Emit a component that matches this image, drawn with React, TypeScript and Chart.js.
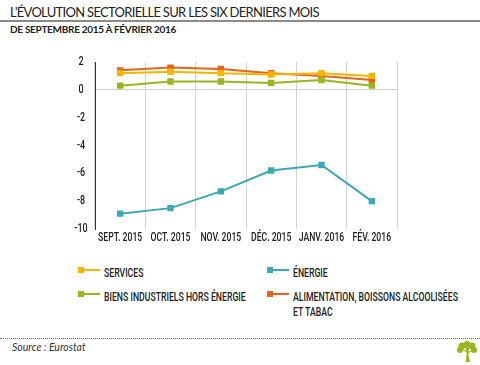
import React, { useEffect, useRef } from "react";
import { Chart, registerables } from "chart.js";

Chart.register(...registerables);

const months = ["SEPT. 2015", "OCT. 2015", "NOV. 2015", "DÉC. 2015", "JANV. 2016", "FÉV. 2016"];
const services = [1.2, 1.3, 1.2, 1.1, 1.2, 1.0];
const energie = [-8.9, -8.5, -7.3, -5.8, -5.4, -8.0];
const biensIndustriels = [0.3, 0.6, 0.6, 0.5, 0.7, 0.3];
const alimentation = [1.4, 1.6, 1.5, 1.2, 1.0, 0.7];
const yTicks = [2, 0, -2, -4, -6, -8, -10];

const COLORS = {
  services: "#f7b500",
  energie: "#3aa9b4",
  biens: "#9ab51f",
  alim: "#e8641a",
};

const sans = 'Lato, "Open Sans", "DejaVu Sans", sans-serif';
const cond = 'Roboto, "Liberation Sans", sans-serif';
const SX = 0.72;
const SX_LEGEND = 0.695;

const condensedLabels = {
  id: "condensedLabels",
  afterDraw(chart: any) {
    const ctx = chart.ctx as CanvasRenderingContext2D;
    const xs = chart.scales.x;
    const ys = chart.scales.y;
    ctx.save();
    ctx.fillStyle = "#222";
    ctx.font = `500 12px ${cond}`;
    ctx.textAlign = "center";
    ctx.textBaseline = "middle";
    xs.ticks.forEach((_t: any, i: number) => {
      const x = xs.getPixelForTick(i);
      ctx.save();
      ctx.translate(x, xs.top + 9);
      ctx.scale(SX, 1);
      ctx.fillText(String(chart.data.labels[i]), 0, 0);
      ctx.restore();
    });
    ctx.font = `500 12.5px ${cond}`;
    ys.ticks.forEach((t: any, i: number) => {
      const y = ys.getPixelForTick(i);
      ctx.save();
      ctx.translate(ys.right - 14, y);
      ctx.scale(SX, 1);
      ctx.fillText(String(t.value), 0, 0);
      ctx.restore();
    });
    ctx.restore();
  },
};

function CondText({ children, size = 12.5 }: { children: React.ReactNode; size?: number }) {
  return (
    <span
      style={{
        display: "inline-block",
        fontFamily: cond,
        fontWeight: 500,
        fontSize: size,
        lineHeight: "15px",
        color: "#222",
        transform: `scaleX(${SX_LEGEND})`,
        transformOrigin: "left center",
        whiteSpace: "nowrap",
      }}
    >
      {children}
    </span>
  );
}

function LegendItem({ color, lines, left, top }: { color: string; lines: string[]; left: number; top: number }) {
  return (
    <div style={{ position: "absolute", left, top }}>
      <div style={{ position: "absolute", left: 0, top: 6, width: 22, height: 2, background: color }} />
      <div style={{ position: "absolute", left: 0, top: 4, width: 6, height: 6, background: color }} />
      <div style={{ position: "absolute", left: 26, top: 0 }}>
        {lines.map((l, i) => (
          <div key={i} style={{ height: 15 }}>
            <CondText>{l}</CondText>
          </div>
        ))}
      </div>
    </div>
  );
}

export default function App() {
  const ref = useRef<HTMLCanvasElement | null>(null);

  useEffect(() => {
    if (!ref.current) return;
    const mk = (label: string, data: number[], color: string) => ({
      label,
      data,
      borderColor: color,
      backgroundColor: color,
      borderWidth: 2,
      pointStyle: "rect" as const,
      pointRadius: 4.5,
      pointHoverRadius: 4.5,
      pointBorderWidth: 0,
      tension: 0,
    });
    const chart = new Chart(ref.current, {
      type: "line",
      data: {
        labels: months,
        datasets: [
          mk("Énergie", energie, COLORS.energie),
          mk("Biens industriels hors énergie", biensIndustriels, COLORS.biens),
          mk("Services", services, COLORS.services),
          mk("Alimentation, boissons alcoolisées et tabac", alimentation, COLORS.alim),
        ],
      },
      options: {
        animation: false,
        responsive: false,
        maintainAspectRatio: false,
        layout: { padding: { left: 0, right: 23, top: 22, bottom: 0 } },
        plugins: { legend: { display: false }, tooltip: { enabled: false } },
        scales: {
          x: {
            offset: true,
            grid: { offset: true, color: "#d4d4d4", lineWidth: 1, drawTicks: false },
            border: { display: false },
            ticks: { display: false, autoSkip: false },
            afterFit: (s: any) => {
              s.height = 26;
            },
          },
          y: {
            min: -10,
            max: 2,
            afterBuildTicks: (s: any) => {
              s.ticks = yTicks.map((v) => ({ value: v }));
            },
            grid: {
              color: (c: any) => (c.tick && c.tick.value === 0 ? "#cfcfcf" : "rgba(0,0,0,0)"),
              lineWidth: 1,
              drawTicks: false,
            },
            border: { display: true, color: "#333", width: 1 },
            ticks: { display: false },
            afterFit: (s: any) => {
              s.width = 95;
            },
          },
        },
      },
      plugins: [condensedLabels],
    });
    return () => chart.destroy();
  }, []);

  return (
    <div style={{ position: "absolute", left: 0, top: 0, width: 480, height: 365, background: "#fff", overflow: "hidden" }}>
      <div style={{ position: "absolute", left: 10, top: 4, fontFamily: sans, fontSize: 13, letterSpacing: -0.7, color: "#222", whiteSpace: "nowrap" }}>
        L’ÉVOLUTION SECTORIELLE SUR LES SIX DERNIERS MOIS
      </div>
      <div style={{ position: "absolute", left: 0, top: 20, width: 480, height: 2, background: "#8a8a8a" }} />
      <div style={{ position: "absolute", left: 10, top: 23, fontFamily: sans, fontSize: 10, letterSpacing: -0.3, fontWeight: 700, color: "#222", whiteSpace: "nowrap" }}>
        DE SEPTEMBRE 2015 À FÉVRIER 2016
      </div>
      <canvas ref={ref} width={420} height={215} style={{ position: "absolute", left: 0, top: 40, width: 420, height: 215 }} />
      <LegendItem color={COLORS.services} lines={["SERVICES"]} left={78} top={263} />
      <LegendItem color={COLORS.energie} lines={["ÉNERGIE"]} left={267} top={263} />
      <LegendItem color={COLORS.biens} lines={["BIENS INDUSTRIELS HORS ÉNERGIE"]} left={78} top={287} />
      <LegendItem color={COLORS.alim} lines={["ALIMENTATION, BOISSONS ALCOOLISÉES", "ET TABAC"]} left={267} top={287} />
      <div style={{ position: "absolute", left: 0, top: 338, width: 480, height: 0, borderTop: "1px dotted #777" }} />
      <div style={{ position: "absolute", left: 12, top: 341, fontFamily: sans, fontStyle: "italic", fontSize: 10.5, color: "#333" }}>
        Source : Eurostat
      </div>
      <svg style={{ position: "absolute", left: 456, top: 341 }} width={22} height={22} viewBox="0 0 22 22">
        <g fill="#9ab51f">
          <circle cx="6" cy="5" r="3.5" />
          <circle cx="11" cy="3.5" r="3.5" />
          <circle cx="16" cy="5" r="3.5" />
          <circle cx="4" cy="9" r="3" />
          <circle cx="18" cy="9" r="3" />
          <path d="M10 7 L13 7 L12.5 14 L14 21 L9.5 21 L10.5 14 Z" />
          <path d="M11 11 L5 9 L5.5 8 L11.5 10 Z" />
          <path d="M12 11 L17 9 L17.5 10 L12.5 12 Z" />
        </g>
      </svg>
    </div>
  );
}
